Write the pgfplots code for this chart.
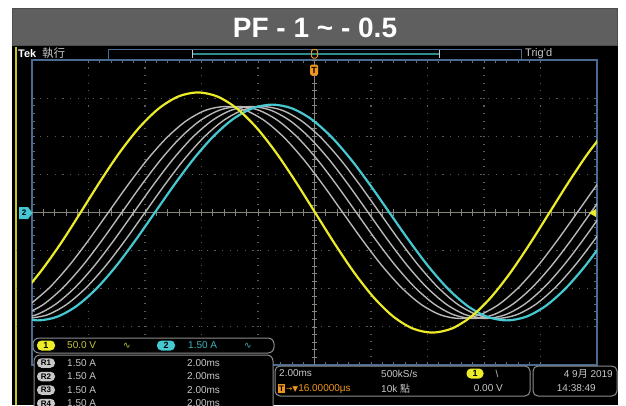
\documentclass[border=0pt]{standalone}
\usepackage{pgfplots}
\pgfplotsset{compat=1.18}
\usepackage{fontspec}
\setmainfont{Liberation Sans}
\newfontfamily\cjk{Noto Sans CJK TC}
\newfontfamily\sym{DejaVu Sans}
\newcommand{\fs}[1]{\fontsize{#1}{#1}\selectfont}
\definecolor{scyellow}{HTML}{EBEB28}
\definecolor{scyan}{HTML}{46C8D2}
\definecolor{sgray}{HTML}{B8B8B8}
\definecolor{titlegray}{HTML}{5F5F5F}
\definecolor{bordblue}{HTML}{4A6A92}
\definecolor{gridgray}{HTML}{5A5A5A}
\definecolor{crossgray}{HTML}{86867C}
\definecolor{paneltext}{HTML}{C8C8C8}
\definecolor{panelline}{HTML}{8C8C8C}
\definecolor{dimyellow}{HTML}{C8C83A}
\definecolor{dimcyan}{HTML}{3CB4BE}
\definecolor{scorange}{HTML}{F0961E}
\definecolor{recteal}{HTML}{2E8C8C}
\pgfplotsset{pix/.style={at={(0pt,0pt)}, anchor=south west, scale only axis,
  width=626pt, height=405pt, xmin=0, xmax=626, ymin=0, ymax=405,
  y dir=reverse, hide axis, clip=false}}
\tikzset{
  badge/.style={rounded corners=4.5pt, minimum width=18pt, minimum height=10pt, inner sep=0pt, text=black, font=\fs{9}\bfseries},
  ptxt/.style={anchor=west, inner sep=0pt, text=paneltext, font=\fs{10}}}
\begin{document}
\begin{tikzpicture}
\path[use as bounding box] (0,0) rectangle (626pt,405pt);
% ---------- background frame ----------
\begin{axis}[pix]
\fill[white] (axis cs:0,0) rectangle (axis cs:626,405);
\fill[black] (axis cs:12,8) rectangle (axis cs:618,405);
\filldraw[fill=titlegray, draw=black!70, line width=1pt] (axis cs:12.5,8.5) rectangle (axis cs:617.5,45);
\node[text=white, font=\fs{28}\bfseries] at (axis cs:315,28) {PF - 1 \textasciitilde{} - 0.5};
\fill[scyellow!85!black] (axis cs:14.8,47) rectangle (axis cs:17.2,405);
\node[anchor=west, inner sep=0pt, text=white, font=\fs{11}\bfseries] at (axis cs:18,53.5) {Tek};
\node[anchor=west, inner sep=0pt, text=paneltext, font=\cjk\fs{11.5}] at (axis cs:42,53.5) {執行};
\draw[bordblue, line width=1pt] (axis cs:108,49) rectangle (axis cs:521,59.5);
\draw[recteal, line width=2pt] (axis cs:192,53.5) -- (axis cs:439,53.5);
\draw[paneltext, line width=0.8pt] (axis cs:192,49.5) -- (axis cs:192,58) (axis cs:439,49.5) -- (axis cs:439,58);
\node[anchor=west, inner sep=0pt, text=paneltext, font=\fs{11}] at (axis cs:525,53.5) {Trig'd};
\draw[scorange, line width=1pt, rounded corners=1.5pt] (axis cs:311.5,49.5) rectangle (axis cs:317.5,58);
\end{axis}
% ---------- graticule and waveforms ----------
\begin{axis}[at={(32pt,40pt)}, anchor=south west, scale only axis,
  width=565pt, height=305pt, xmin=-10, xmax=10, ymin=-4, ymax=4,
  xtick={-8,-6,...,8}, ytick={-3,-2,...,3}, minor x tick num=4, minor y tick num=4,
  xticklabel={}, yticklabel={}, tick align=inside,
  major tick length=3pt, minor tick length=3pt,
  tick style={draw=bordblue!70!gray, line width=0.8pt},
  grid=major, major grid style={draw=gridgray, line width=1.1pt, dash pattern=on 1.1pt off 6.5pt},
  axis line style={draw=bordblue, line width=1.2pt}]
\draw[crossgray, line width=0.8pt] (axis cs:-10,0) -- (axis cs:10,0);
\draw[crossgray, line width=0.8pt] (axis cs:0,-4) -- (axis cs:0,4);
\pgfplotsinvokeforeach{-9.6,-9.2,...,9.7}{\draw[crossgray, line width=0.7pt] (axis cs:#1,-0.08) -- (axis cs:#1,0.08);}
\pgfplotsinvokeforeach{-3.8,-3.6,...,3.9}{\draw[crossgray, line width=0.7pt] (axis cs:-0.1,#1) -- (axis cs:0.1,#1);}
% R1 (gray)
\addplot[sgray, line width=1.4pt, smooth] coordinates {
(-10.067,-2.4075) (-9.375,-1.966) (-8.683,-1.39) (-7.992,-0.7195) (-7.300,0) (-6.608,0.7195)
(-5.917,1.39) (-5.225,1.966) (-4.533,2.4075) (-3.842,2.685) (-3.150,2.78) (-2.458,2.685)
(-1.767,2.4075) (-1.075,1.966) (-0.383,1.39) (0.308,0.7195) (1.000,0) (1.692,-0.7195)
(2.383,-1.39) (3.075,-1.966) (3.767,-2.4075) (4.458,-2.685) (5.150,-2.78) (5.842,-2.685)
(6.533,-2.4075) (7.225,-1.966) (7.917,-1.39) (8.608,-0.7195) (9.300,0) (9.992,0.7195) (10.683,1.39)};
% R2
\addplot[sgray, line width=1.4pt, smooth] coordinates {
(-10.278,-2.685) (-9.587,-2.4075) (-8.895,-1.966) (-8.203,-1.39) (-7.512,-0.7195) (-6.820,0)
(-6.128,0.7195) (-5.437,1.39) (-4.745,1.966) (-4.053,2.4075) (-3.362,2.685) (-2.670,2.78)
(-1.978,2.685) (-1.287,2.4075) (-0.595,1.966) (0.097,1.39) (0.788,0.7195) (1.480,0)
(2.172,-0.7195) (2.863,-1.39) (3.555,-1.966) (4.247,-2.4075) (4.938,-2.685) (5.630,-2.78)
(6.322,-2.685) (7.013,-2.4075) (7.705,-1.966) (8.397,-1.39) (9.088,-0.7195) (9.780,0) (10.472,0.7195)};
% R3
\addplot[sgray, line width=1.4pt, smooth] coordinates {
(-10.550,-2.78) (-9.858,-2.685) (-9.167,-2.4075) (-8.475,-1.966) (-7.783,-1.39) (-7.092,-0.7195)
(-6.400,0) (-5.708,0.7195) (-5.017,1.39) (-4.325,1.966) (-3.633,2.4075) (-2.942,2.685)
(-2.250,2.78) (-1.558,2.685) (-0.867,2.4075) (-0.175,1.966) (0.517,1.39) (1.208,0.7195)
(1.900,0) (2.592,-0.7195) (3.283,-1.39) (3.975,-1.966) (4.667,-2.4075) (5.358,-2.685)
(6.050,-2.78) (6.742,-2.685) (7.433,-2.4075) (8.125,-1.966) (8.817,-1.39) (9.508,-0.7195) (10.200,0)};
% R4
\addplot[sgray, line width=1.4pt, smooth] coordinates {
(-10.150,-2.78) (-9.458,-2.685) (-8.767,-2.4075) (-8.075,-1.966) (-7.383,-1.39) (-6.692,-0.7195)
(-6.000,0) (-5.308,0.7195) (-4.617,1.39) (-3.925,1.966) (-3.233,2.4075) (-2.542,2.685)
(-1.850,2.78) (-1.158,2.685) (-0.467,2.4075) (0.225,1.966) (0.917,1.39) (1.608,0.7195)
(2.300,0) (2.992,-0.7195) (3.683,-1.39) (4.375,-1.966) (5.067,-2.4075) (5.758,-2.685)
(6.450,-2.78) (7.142,-2.685) (7.833,-2.4075) (8.525,-1.966) (9.217,-1.39) (9.908,-0.7195) (10.600,0)};
% CH2 current (cyan)
\addplot[scyan, line width=2.2pt, smooth] coordinates {
(-10.492,-2.734) (-9.800,-2.83) (-9.108,-2.734) (-8.417,-2.451) (-7.725,-2.001) (-7.033,-1.415)
(-6.342,-0.7324) (-5.650,0) (-4.958,0.7324) (-4.267,1.415) (-3.575,2.001) (-2.883,2.451)
(-2.192,2.734) (-1.500,2.83) (-0.808,2.734) (-0.117,2.451) (0.575,2.001) (1.267,1.415)
(1.958,0.7324) (2.650,0) (3.342,-0.7324) (4.033,-1.415) (4.725,-2.001) (5.417,-2.451)
(6.108,-2.734) (6.800,-2.83) (7.492,-2.734) (8.183,-2.451) (8.875,-2.001) (9.567,-1.415) (10.258,-0.7324)};
% CH1 voltage (yellow)
\addplot[scyellow, line width=2.2pt, smooth] coordinates {
(-10.355,-2.15) (-9.663,-1.52) (-8.972,-0.80) (-8.280,0) (-7.588,0.815) (-6.897,1.575)
(-6.205,2.227) (-5.513,2.728) (-4.822,3.043) (-4.130,3.150) (-3.438,3.043) (-2.747,2.728)
(-2.055,2.227) (-1.363,1.575) (-0.672,0.815) (0.020,0) (0.712,-0.815) (1.403,-1.575)
(2.095,-2.227) (2.787,-2.728) (3.478,-3.043) (4.170,-3.150) (4.862,-3.043) (5.553,-2.728)
(6.245,-2.227) (6.937,-1.575) (7.628,-0.815) (8.320,0) (9.012,0.815) (9.703,1.575) (10.395,2.227)};
\end{axis}
% ---------- overlays: markers and readouts ----------
\begin{axis}[pix]
% trigger marker
\node[fill=scorange, text=black, inner sep=0pt, minimum width=8pt, minimum height=11pt, rounded corners=1.5pt, font=\fs{9}\bfseries] at (axis cs:314,70) {T};
% channel 2 ground marker
\fill[scyan] (axis cs:19,207) -- (axis cs:28,207) -- (axis cs:32.5,213) -- (axis cs:28,219) -- (axis cs:19,219) -- cycle;
\node[text=black, inner sep=0pt, font=\fs{8}\bfseries] at (axis cs:24,213) {2};
% trigger level marker
\fill[scyellow] (axis cs:589,213) -- (axis cs:596,209) -- (axis cs:596,217) -- cycle;
% channel pill
\draw[panelline, line width=1pt, rounded corners=6pt, fill=black] (axis cs:33,338) rectangle (axis cs:274,353);
\node[badge, fill=scyellow] at (axis cs:46,345.5) {1};
\node[anchor=west, inner sep=0pt, text=dimyellow, font=\fs{10}] at (axis cs:67,345.5) {50.0 V};
\node[inner sep=0pt, text=dimyellow, font=\sym\fs{9}] at (axis cs:127,345.5) {∿};
\node[badge, fill=scyan] at (axis cs:166,345.5) {2};
\node[anchor=west, inner sep=0pt, text=dimcyan, font=\fs{10}] at (axis cs:188,345.5) {1.50 A};
\node[inner sep=0pt, text=dimcyan, font=\sym\fs{9}] at (axis cs:248,345.5) {∿};
% reference box
\draw[panelline, line width=1pt, rounded corners=6pt, fill=black] (axis cs:34,355) rectangle (axis cs:273,420);
\node[badge, fill=paneltext, minimum height=9.5pt, font=\fs{8}\bfseries] at (axis cs:46,363) {R1};
\node[ptxt] at (axis cs:67,363) {1.50 A};
\node[ptxt] at (axis cs:187,363) {2.00ms};
\node[badge, fill=paneltext, minimum height=9.5pt, font=\fs{8}\bfseries] at (axis cs:46,376.5) {R2};
\node[ptxt] at (axis cs:67,376.5) {1.50 A};
\node[ptxt] at (axis cs:187,376.5) {2.00ms};
\node[badge, fill=paneltext, minimum height=9.5pt, font=\fs{8}\bfseries] at (axis cs:46,390) {R3};
\node[ptxt] at (axis cs:67,390) {1.50 A};
\node[ptxt] at (axis cs:187,390) {2.00ms};
\node[badge, fill=paneltext, minimum height=9.5pt, font=\fs{8}\bfseries] at (axis cs:46,403.5) {R4};
\node[ptxt] at (axis cs:67,403.5) {1.50 A};
\node[ptxt] at (axis cs:187,403.5) {2.00ms};
% horizontal / acquisition box
\draw[panelline, line width=1pt, rounded corners=5pt, fill=black] (axis cs:275,366) rectangle (axis cs:530,396);
\node[ptxt] at (axis cs:279,373.5) {2.00ms};
\node[fill=scorange, text=black, inner sep=0pt, minimum width=7pt, minimum height=9pt, font=\fs{8}\bfseries] at (axis cs:281.5,388.5) {T};
\node[anchor=west, inner sep=0pt, text=scorange, font=\fs{10}] at (axis cs:286,388.5) {{\sym\fs{7.5}→▼}16.00000μs};
\node[ptxt] at (axis cs:381,373.5) {500kS/s};
\node[ptxt] at (axis cs:381,388.5) {10k {\cjk\fs{10}點}};
\node[badge, fill=scyellow, minimum width=17pt] at (axis cs:475,373.5) {1};
\node[inner sep=0pt, text=paneltext, font=\fs{10}] at (axis cs:497,373.5) {\textbackslash};
\node[ptxt, anchor=east] at (axis cs:503,388.5) {0.00 V};
% date box
\draw[panelline, line width=1pt, rounded corners=5pt, fill=black] (axis cs:533,366) rectangle (axis cs:617,396);
\node[ptxt, anchor=east] at (axis cs:613,373.5) {4 9{\cjk\fs{10}月} 2019};
\node[ptxt, anchor=east] at (axis cs:596,388.5) {14:38:49};
\end{axis}
\end{tikzpicture}
\end{document}
